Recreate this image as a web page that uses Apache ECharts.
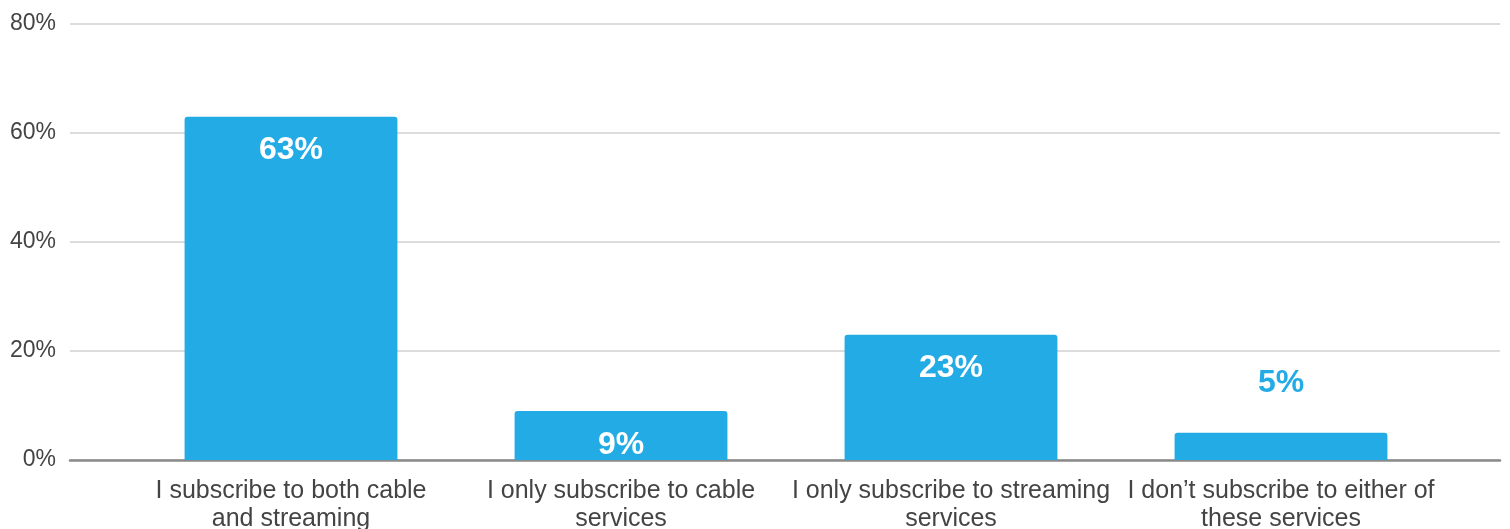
<!DOCTYPE html>
<html>
<head>
<meta charset="utf-8">
<script src="https://cdn.jsdelivr.net/npm/echarts@6/dist/echarts.min.js"></script>
<style>
  html, body { margin: 0; padding: 0; background: #fff; }
  #chart { width: 1510px; height: 529px; }
</style>
</head>
<body>
<div id="chart"></div>
<script>
const categories = [
  'I subscribe to both cable\nand streaming',
  'I only subscribe to cable\nservices',
  'I only subscribe to streaming\nservices',
  'I don\u2019t subscribe to either of\nthese services'
]
const shares = [63, 9, 23, 5]
const yTicks = [0, 20, 40, 60, 80]

const barColor = '#23abe6'
const font = '"Liberation Sans", Arial, sans-serif'

const chart = echarts.init(document.getElementById('chart'))

// small bars get their label above, in the bar colour
const barData = shares.map(v => {
  const small = v < 8
  return {
    value: v,
    label: small
      ? { position: 'top', distance: 34, color: barColor }
      : { position: 'insideTop', distance: 18, color: '#fff' }
  }
})

const option = {
  animation: false,
  backgroundColor: '#fff',
  grid: [
    { left: 70, right: 10, top: 24, bottom: 69, outerBoundsMode: 'none' },
    { left: 126, right: 64, top: 24, bottom: 69, outerBoundsMode: 'none' }
  ],
  xAxis: [
    {
      type: 'value',
      gridIndex: 0,
      min: 0,
      max: 1,
      axisLine: { show: true, onZero: false, lineStyle: { color: '#8a8a8a', width: 2.5 } },
      axisTick: { show: false },
      axisLabel: { show: false },
      splitLine: { show: false }
    },
    {
      type: 'category',
      gridIndex: 1,
      data: categories,
      axisLine: { show: false },
      axisTick: { show: false },
      axisLabel: {
        color: '#444',
        fontFamily: font,
        fontSize: 25,
        lineHeight: 28,
        margin: 17,
        interval: 0
      }
    }
  ],
  yAxis: [
    {
      type: 'value',
      gridIndex: 0,
      min: yTicks[0],
      max: yTicks[yTicks.length - 1],
      interval: yTicks[1] - yTicks[0],
      axisLine: { show: false },
      axisTick: { show: false },
      axisLabel: {
        formatter: '{value}%',
        color: '#444',
        fontFamily: font,
        fontSize: 23,
        margin: 14
      },
      splitLine: { lineStyle: { color: '#dcdcdc', width: 2 } }
    },
    {
      type: 'value',
      gridIndex: 1,
      min: yTicks[0],
      max: yTicks[yTicks.length - 1],
      show: false,
      splitLine: { show: false }
    }
  ],
  series: [
    {
      type: 'bar',
      xAxisIndex: 1,
      yAxisIndex: 1,
      data: barData,
      barWidth: '64.5%',
      itemStyle: { color: barColor, borderRadius: [3, 3, 0, 0] },
      label: {
        show: true,
        formatter: '{c}%',
        fontFamily: font,
        fontWeight: 'bold',
        fontSize: 32
      },
      z: 3
    }
  ]
}

chart.setOption(option)
</script>
</body>
</html>
